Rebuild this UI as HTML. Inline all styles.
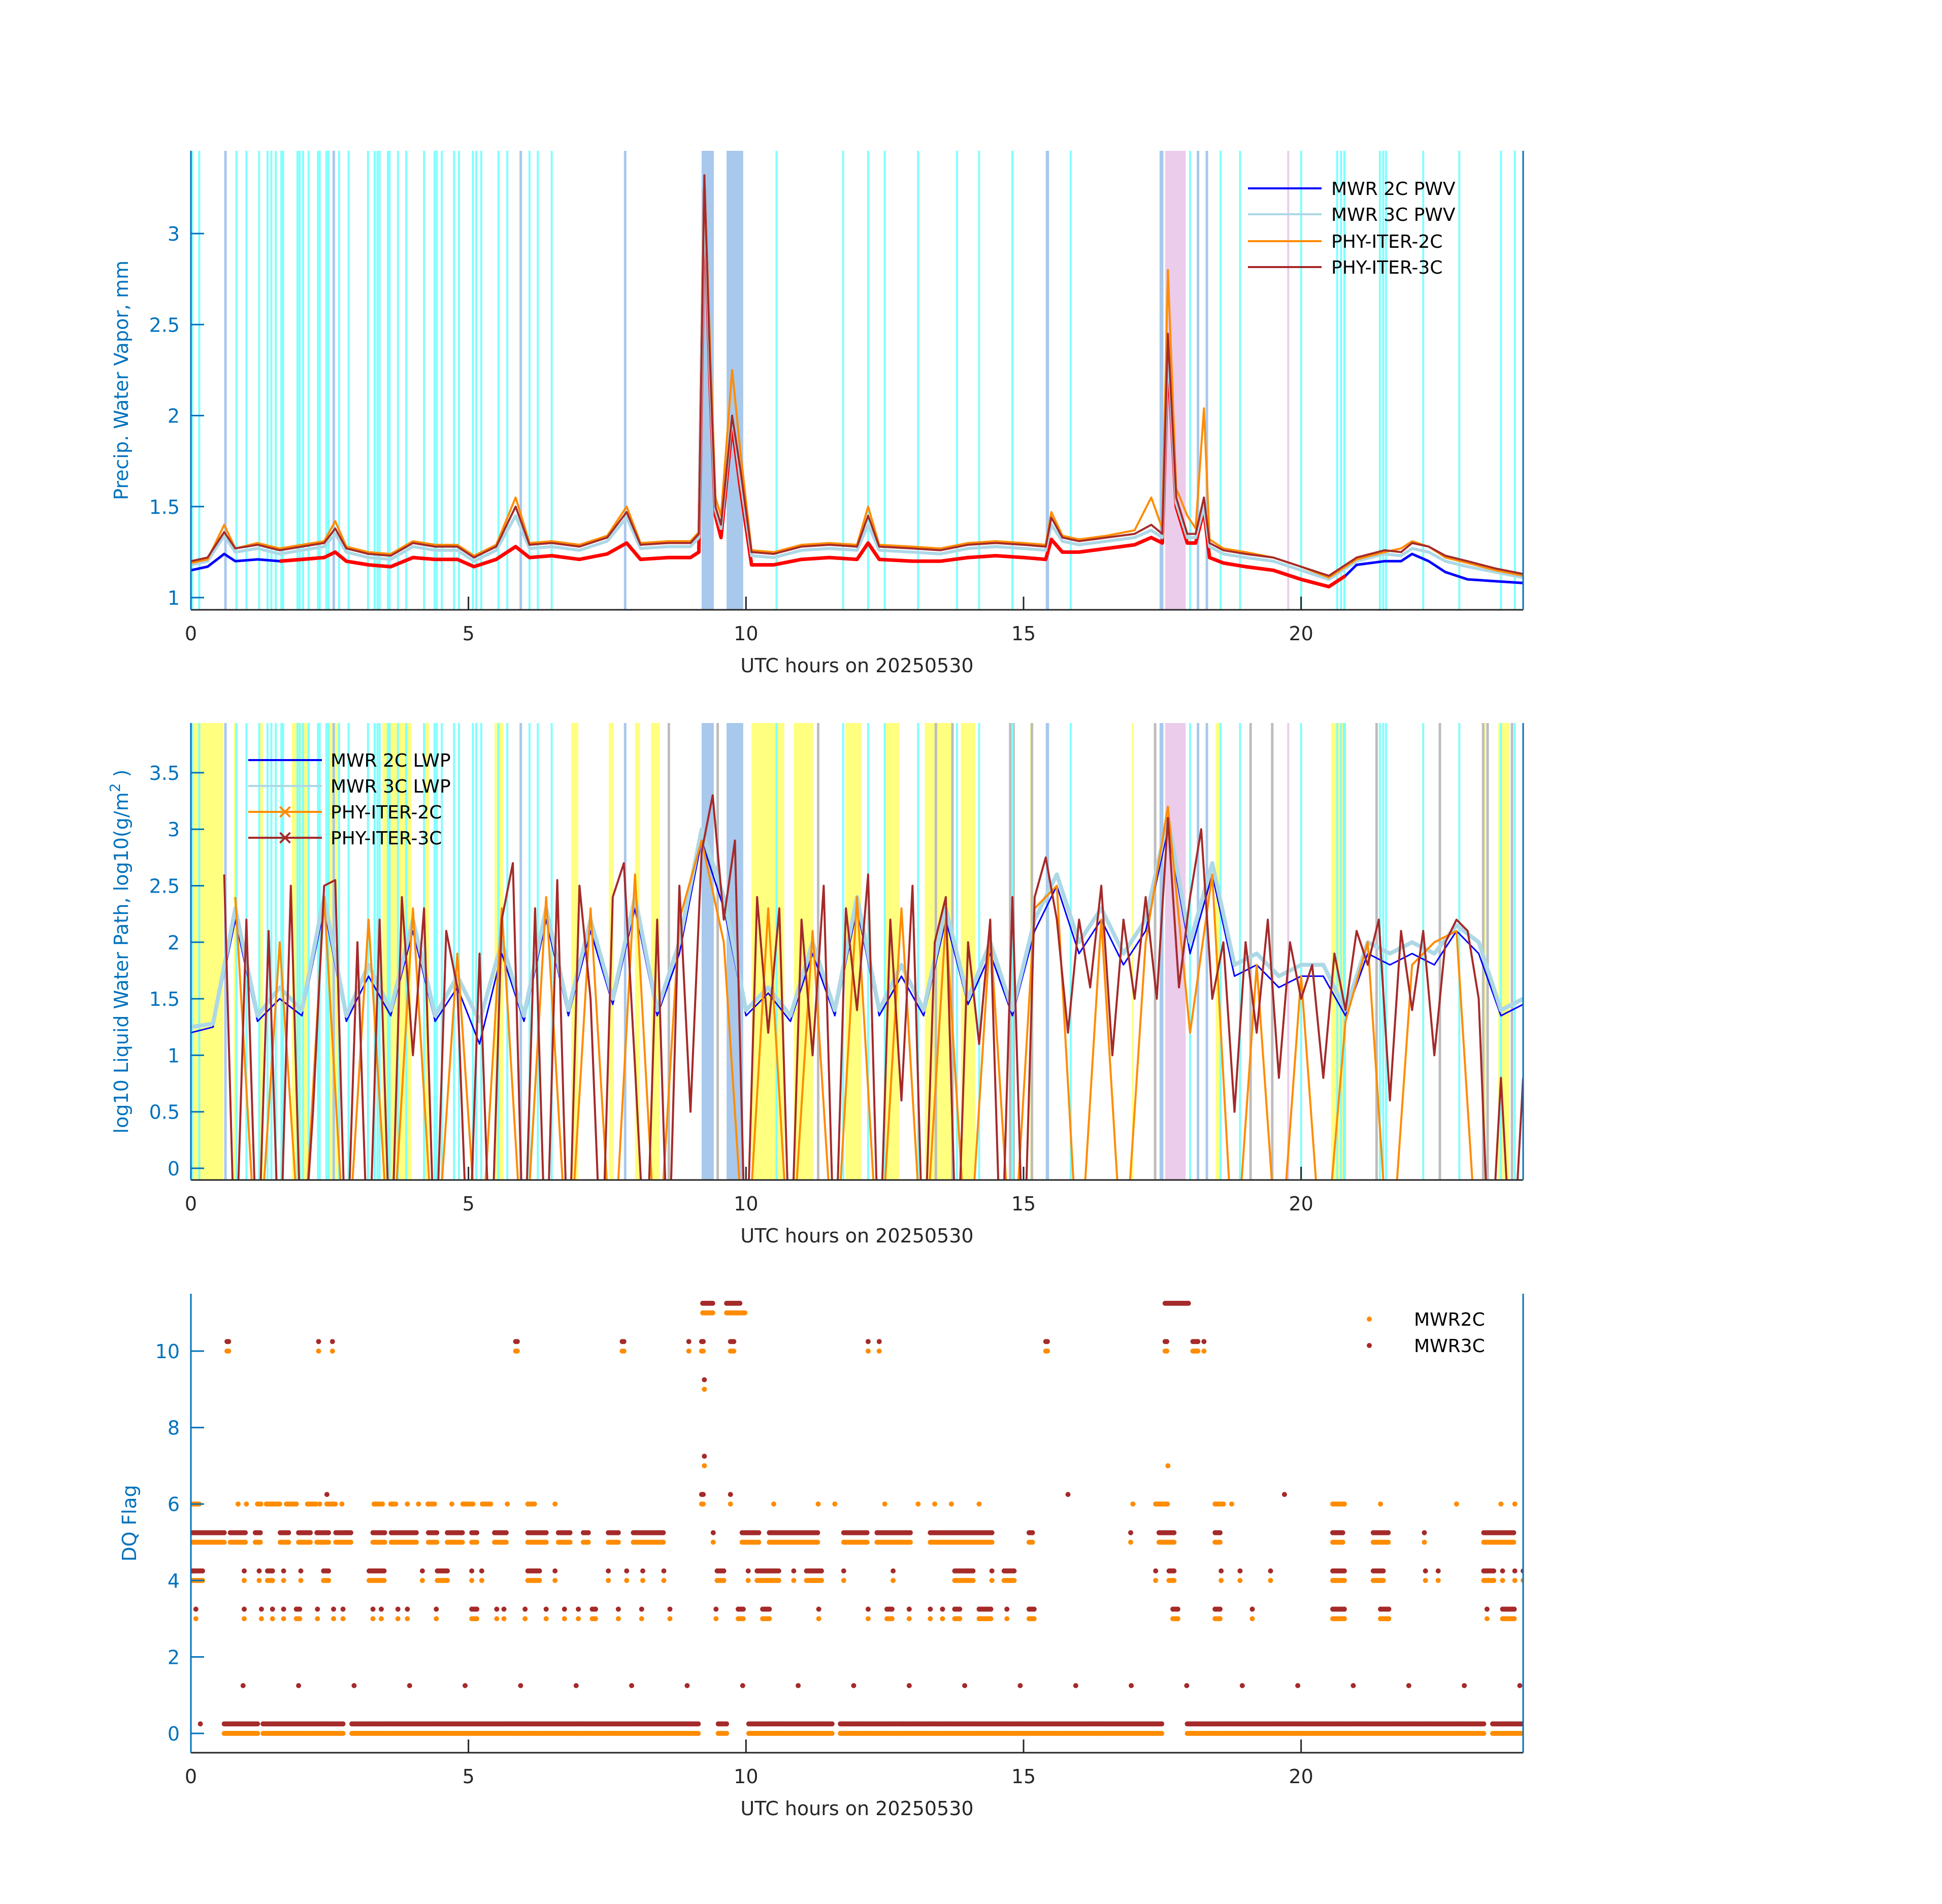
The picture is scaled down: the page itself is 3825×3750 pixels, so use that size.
<!DOCTYPE html>
<html><head><meta charset="utf-8"><style>
html,body{margin:0;padding:0;background:#fff}
svg{display:block;font-family:"DejaVu Sans","Liberation Sans",sans-serif}
</style></head><body>
<svg id="fig" width="3825" height="3750" viewBox="0 0 3825 3750" xmlns="http://www.w3.org/2000/svg">
<rect width="3825" height="3750" fill="#fff"/>
<defs>
<clipPath id="c1"><rect x="376" y="297" width="2624" height="904"/></clipPath>
<clipPath id="c2"><rect x="376" y="1424" width="2624" height="900"/></clipPath>
<clipPath id="c3"><rect x="376" y="2548" width="2624" height="904"/></clipPath>
</defs>
<g id="p1"></g>
<g id="p2"></g>
<g id="p3"></g>
</svg>
<script>
// ---------- data ----------
const xTicks=[0,5,10,15,20];
const pwvTicks=[1,1.5,2,2.5,3];
const pwvTickLabels=["1","1.5","2","2.5","3"];
const lwpTicks=[0,0.5,1,1.5,2,2.5,3,3.5];
const lwpTickLabels=["0","0.5","1","1.5","2","2.5","3","3.5"];
const dqTicks=[0,2,4,6,8,10];
const dqTickLabels=["0","2","4","6","8","10"];

const pwvHours=[0,0.3,0.6,0.8,1.2,1.6,2.0,2.4,2.6,2.8,3.2,3.6,4.0,4.4,4.8,5.1,5.5,5.85,6.1,6.5,7.0,7.5,7.85,8.1,8.6,9.0,9.15,9.25,9.35,9.45,9.55,9.75,9.9,10.1,10.5,11.0,11.5,12.0,12.2,12.4,13.0,13.5,14.0,14.5,15.0,15.4,15.5,15.7,16.0,16.5,17.0,17.3,17.5,17.6,17.75,17.95,18.1,18.25,18.35,18.6,19.0,19.5,20.0,20.5,20.8,21.0,21.5,21.8,22.0,22.3,22.6,23.0,23.5,24.0];
const pwvPhy3c=[1.20,1.22,1.36,1.27,1.29,1.26,1.28,1.30,1.38,1.27,1.24,1.23,1.30,1.28,1.28,1.22,1.28,1.50,1.29,1.30,1.28,1.33,1.47,1.29,1.30,1.30,1.35,3.32,2.3,1.5,1.4,2.0,1.7,1.25,1.24,1.28,1.29,1.28,1.45,1.28,1.27,1.26,1.29,1.30,1.29,1.28,1.44,1.33,1.31,1.33,1.35,1.40,1.35,2.45,1.55,1.35,1.35,1.55,1.30,1.26,1.24,1.22,1.17,1.12,1.18,1.22,1.26,1.25,1.30,1.28,1.23,1.20,1.16,1.13];
const pwvPhy2c=[1.19,1.21,1.40,1.27,1.30,1.27,1.29,1.31,1.42,1.28,1.25,1.24,1.31,1.29,1.29,1.23,1.29,1.55,1.30,1.31,1.29,1.34,1.50,1.30,1.31,1.31,1.36,3.30,2.4,1.55,1.45,2.25,1.8,1.26,1.25,1.29,1.30,1.29,1.50,1.29,1.28,1.27,1.30,1.31,1.30,1.29,1.47,1.34,1.32,1.34,1.37,1.55,1.38,2.80,1.60,1.45,1.38,2.04,1.32,1.27,1.25,1.22,1.17,1.11,1.17,1.21,1.25,1.27,1.31,1.28,1.22,1.19,1.15,1.12];
const pwvMwr3c=[1.18,1.20,1.34,1.25,1.27,1.24,1.26,1.28,1.35,1.25,1.22,1.21,1.28,1.26,1.26,1.20,1.26,1.45,1.27,1.28,1.26,1.31,1.44,1.27,1.28,1.28,1.33,3.30,2.25,1.48,1.38,2.0,1.65,1.23,1.22,1.26,1.27,1.26,1.40,1.26,1.25,1.24,1.27,1.28,1.27,1.26,1.40,1.31,1.29,1.31,1.33,1.37,1.33,2.40,1.52,1.33,1.33,1.50,1.28,1.24,1.22,1.20,1.15,1.10,1.16,1.20,1.24,1.23,1.27,1.25,1.20,1.17,1.14,1.11];
const pwvMwr2c=[1.15,1.17,1.24,1.20,1.21,1.20,1.21,1.22,1.25,1.20,1.18,1.17,1.22,1.21,1.21,1.17,1.21,1.28,1.22,1.23,1.21,1.24,1.30,1.21,1.22,1.22,1.25,3.25,2.2,1.45,1.33,1.95,1.6,1.18,1.18,1.21,1.22,1.21,1.30,1.21,1.20,1.20,1.22,1.23,1.22,1.21,1.32,1.25,1.25,1.27,1.29,1.33,1.30,2.35,1.50,1.30,1.30,1.48,1.22,1.19,1.17,1.15,1.10,1.06,1.12,1.18,1.20,1.20,1.24,1.20,1.14,1.10,1.09,1.08];
const pwv2cFlagged=[[1.25,20.9],[21.9,22.1]];

const lwpHours3c=[0,0.2,0.4,0.6,0.8,1.0,1.2,1.4,1.6,1.8,2.0,2.2,2.4,2.6,2.8,3.0,3.2,3.4,3.6,3.8,4.0,4.2,4.4,4.6,4.8,5.0,5.2,5.4,5.6,5.8,6.0,6.2,6.4,6.6,6.8,7.0,7.2,7.4,7.6,7.8,8.0,8.2,8.4,8.6,8.8,9.0,9.2,9.4,9.6,9.8,10.0,10.2,10.4,10.6,10.8,11.0,11.2,11.4,11.6,11.8,12.0,12.2,12.4,12.6,12.8,13.0,13.2,13.4,13.6,13.8,14.0,14.2,14.4,14.6,14.8,15.0,15.2,15.4,15.6,15.8,16.0,16.2,16.4,16.6,16.8,17.0,17.2,17.4,17.6,17.8,18.0,18.2,18.4,18.6,18.8,19.0,19.2,19.4,19.6,19.8,20.0,20.2,20.4,20.6,20.8,21.0,21.2,21.4,21.6,21.8,22.0,22.2,22.4,22.6,22.8,23.0,23.2,23.4,23.6,23.8,24.0];
const lwpPhy3c=[null,null,null,2.6,-1,2.2,-1,2.1,-1,2.5,-1,0.5,2.5,2.55,-1,2.0,-1,2.2,-1,2.4,1.0,2.3,-1,2.1,1.6,-1,1.9,-1,2.2,2.7,-1,2.3,-1,2.55,-1,2.5,1.5,-1,2.4,2.7,0.9,-1,2.2,-1,2.5,0.5,2.8,3.3,2.2,2.9,-1,2.4,1.2,2.3,-1,2.2,1.0,2.5,-1,2.3,1.4,2.6,-1,2.2,0.6,2.5,-1,2.0,2.4,-1,2.0,1.1,2.2,-1,2.4,-1,2.4,2.75,2.2,1.2,2.2,1.6,2.5,1.0,2.2,1.5,2.4,1.5,3.1,1.6,2.4,3.0,1.5,2.0,0.5,2.0,1.2,2.2,0.8,2.0,1.5,1.8,0.8,1.9,1.4,2.1,1.8,2.2,0.6,2.1,1.4,2.1,1.0,2.0,2.2,2.1,1.5,-1,0.8,-1,0.8];
const lwpHours=[0,0.4,0.8,1.2,1.6,2.0,2.4,2.8,3.2,3.6,4.0,4.4,4.8,5.2,5.6,6.0,6.4,6.8,7.2,7.6,8.0,8.4,8.8,9.2,9.6,10.0,10.4,10.8,11.2,11.6,12.0,12.4,12.8,13.2,13.6,14.0,14.4,14.8,15.2,15.6,16.0,16.4,16.8,17.2,17.6,18.0,18.4,18.8,19.2,19.6,20.0,20.4,20.8,21.2,21.6,22.0,22.4,22.8,23.2,23.6,24.0];
const lwpPhy2c=[null,null,2.4,-1,2.0,-1,2.4,-1,2.2,-1,2.3,-1,1.9,-1,2.3,-1,2.4,-1,2.3,-1,2.6,-1,2.2,2.9,2.0,-1,2.3,-1,2.1,-1,2.4,-1,2.3,-1,2.2,-1,2.1,-1,2.3,2.5,-1,2.2,-1,2.0,3.2,1.2,2.6,-1,1.8,-1,1.7,-1,1.3,2.0,-1,1.8,2.0,2.1,-1,-1,-1];
const lwpMwr3c=[1.25,1.28,2.3,1.35,1.6,1.4,2.4,1.35,1.8,1.4,2.2,1.35,1.7,1.3,2.0,1.35,2.3,1.4,2.2,1.5,2.4,1.4,2.0,3.0,2.4,1.4,1.6,1.35,2.0,1.4,2.4,1.4,1.8,1.4,2.3,1.5,2.0,1.4,2.2,2.6,2.0,2.3,1.9,2.2,3.1,2.0,2.7,1.8,1.9,1.7,1.8,1.8,1.4,2.0,1.9,2.0,1.9,2.15,2.0,1.4,1.5];
const lwpMwr2c=[1.2,1.25,2.2,1.3,1.5,1.35,2.3,1.3,1.7,1.35,2.1,1.3,1.6,1.1,1.9,1.3,2.2,1.35,2.1,1.45,2.3,1.35,1.9,2.9,2.3,1.35,1.55,1.3,1.9,1.35,2.3,1.35,1.7,1.35,2.2,1.45,1.9,1.35,2.1,2.5,1.9,2.2,1.8,2.1,3.0,1.9,2.6,1.7,1.8,1.6,1.7,1.7,1.35,1.9,1.8,1.9,1.8,2.1,1.9,1.35,1.45];

// flag bands (hours)
const cyanLines=[0.02,0.15,0.82,1.0,1.23,1.38,1.45,1.53,1.63,1.66,1.92,1.96,2.02,2.12,2.29,2.32,2.44,2.48,2.67,2.84,3.19,3.31,3.36,3.40,3.55,3.58,3.73,3.88,4.2,4.39,4.43,4.52,4.74,4.83,5.08,5.14,5.23,5.54,5.7,6.1,6.25,6.5,9.72,9.8,10.55,11.75,12.2,12.5,13.1,13.8,14.2,14.8,15.43,15.85,18.0,18.3,18.55,18.9,20.0,20.65,20.72,20.78,21.42,21.48,21.53,22.2,22.85,23.6,23.85];
const blueBands=[[0.6,0.64],[2.55,2.58],[5.92,5.95],[7.8,7.83],[9.2,9.42],[9.65,9.95],[15.4,15.46],[17.45,17.52],[18.12,18.15],[18.28,18.32]];
const pinkBands=[[17.55,17.92],[19.75,19.77]];
const yellowBands=[[0,0.58],[0.77,0.83],[1.24,1.30],[1.82,2.10],[2.46,2.68],[3.45,3.97],[4.19,4.29],[5.47,5.63],[6.85,6.98],[7.53,7.62],[8.0,8.09],[8.29,8.45],[10.10,10.69],[10.86,11.21],[11.79,12.08],[12.52,12.76],[13.22,13.72],[13.87,14.13],[15.12,15.18],[16.95,16.97],[18.46,18.54],[20.54,20.81],[22.18,22.21],[23.28,23.33],[23.55,23.75]];
const grayLines=[8.61,9.49,11.3,13.42,13.72,14.76,14.82,15.15,17.37,19.09,19.48,20.78,21.36,22.5,23.28,23.36,23.8];

// DQ flags: [level, start, end]
const dqShared=[[0,0.6,1.2],[0,1.3,2.75],[0,2.9,9.15],[0,9.5,9.65],[0,10.05,11.55],[0,11.7,17.5],[0,17.95,23.3],[0,23.45,24],
[5,0,0.6],[5,0.71,1.0],[5,1.16,1.27],[5,1.61,1.76],[5,1.94,2.16],[5,2.27,2.5],[5,2.61,2.9],[5,3.28,3.5],[5,3.61,4.06],[5,4.28,4.44],[5,4.62,4.89],[5,5.06,5.17],[5,5.47,5.69],[5,6.07,6.4],[5,6.62,6.85],[5,7.07,7.18],[5,7.52,7.7],[5,7.97,8.52],[5,9.41,9.43],[5,9.93,10.24],[5,10.42,11.31],[5,11.76,12.2],[5,12.36,12.98],[5,13.32,14.43],[5,15.1,15.17],[5,16.93,16.95],[5,17.44,17.73],[5,18.45,18.56],[5,20.57,20.75],[5,21.3,21.57],[5,22.22,22.24],[5,23.29,23.85],
[4,0,0.22],[4,0.96,0.96],[4,1.23,1.23],[4,1.38,1.49],[4,1.67,1.67],[4,1.98,1.98],[4,2.39,2.5],[4,3.21,3.5],[4,4.17,4.17],[4,4.44,4.62],[4,5.06,5.06],[4,5.24,5.24],[4,6.07,6.29],[4,6.56,6.56],[4,7.52,7.52],[4,7.85,7.85],[4,8.14,8.14],[4,8.52,8.52],[4,9.48,9.6],[4,10.04,10.04],[4,10.2,10.6],[4,10.86,10.86],[4,11.09,11.36],[4,11.76,11.76],[4,12.65,12.65],[4,13.76,14.09],[4,14.43,14.43],[4,14.65,14.83],[4,17.38,17.38],[4,17.62,17.73],[4,18.56,18.56],[4,18.9,18.9],[4,19.45,19.45],[4,20.57,20.8],[4,21.3,21.48],[4,22.24,22.24],[4,22.47,22.47],[4,23.29,23.47],[4,23.63,23.63],[4,23.85,23.85],[4,24,24],
[3,0.09,0.09],[3,0.96,0.96],[3,1.27,1.27],[3,1.47,1.47],[3,1.67,1.67],[3,1.9,1.96],[3,2.28,2.28],[3,2.57,2.57],[3,2.74,2.74],[3,3.28,3.28],[3,3.43,3.43],[3,3.73,3.73],[3,3.9,3.9],[3,4.42,4.42],[3,5.06,5.17],[3,5.51,5.51],[3,5.64,5.64],[3,6.02,6.02],[3,6.4,6.4],[3,6.73,6.73],[3,6.98,6.98],[3,7.23,7.3],[3,7.7,7.7],[3,8.12,8.12],[3,8.63,8.63],[3,9.46,9.46],[3,9.86,9.97],[3,10.3,10.42],[3,11.31,11.31],[3,12.2,12.2],[3,12.54,12.65],[3,12.94,12.94],[3,13.32,13.32],[3,13.54,13.54],[3,13.76,13.87],[3,14.2,14.43],[3,14.7,14.7],[3,15.1,15.21],[3,17.69,17.78],[3,18.45,18.56],[3,19.12,19.12],[3,20.57,20.8],[3,21.43,21.59],[3,23.35,23.35],[3,23.63,23.85],
[10,0.65,0.7],[10,2.3,2.3],[10,2.55,2.55],[10,5.85,5.9],[10,7.77,7.8],[10,8.97,8.97],[10,9.2,9.25],[10,9.72,9.8],[10,12.2,12.2],[10,12.4,12.4],[10,15.4,15.45],[10,17.55,17.6],[10,18.05,18.15],[10,18.25,18.25],
[11,9.22,9.4],[6,9.2,9.25],[9,9.25,9.25],[7,9.25,9.25]];
const dq2cOnly=[[6,0,0.16],[6,0.85,0.85],[6,1.0,1.0],[6,1.2,1.27],[6,1.36,1.6],[6,1.72,1.9],[6,2.1,2.27],[6,2.32,2.32],[6,2.45,2.6],[6,2.72,2.72],[6,3.3,3.45],[6,3.6,3.7],[6,3.9,3.9],[6,4.1,4.1],[6,4.27,4.4],[6,4.7,4.7],[6,4.9,5.1],[6,5.25,5.4],[6,5.7,5.7],[6,6.07,6.2],[6,6.56,6.56],[6,9.72,9.72],[6,10.5,10.5],[6,11.3,11.3],[6,11.6,11.6],[6,12.5,12.5],[6,13.1,13.1],[6,13.4,13.4],[6,13.7,13.7],[6,14.2,14.2],[6,16.97,16.97],[6,17.38,17.6],[6,18.45,18.6],[6,18.75,18.75],[6,20.57,20.8],[6,21.43,21.43],[6,22.8,22.8],[6,23.6,23.6],[6,23.85,23.85],[11,9.65,10.0],[7,17.6,17.6]];
const dq3cOnly=[[6,2.45,2.45],[6,9.72,9.72],[6,15.8,15.8],[6,19.7,19.7],[11,9.65,9.9],[11,17.55,17.98],[1,0.94,0.94],[1,1.94,1.94],[1,2.94,2.94],[1,3.94,3.94],[1,4.94,4.94],[1,5.94,5.94],[1,6.94,6.94],[1,7.94,7.94],[1,8.94,8.94],[1,9.94,9.94],[1,10.94,10.94],[1,11.94,11.94],[1,12.94,12.94],[1,13.94,13.94],[1,14.94,14.94],[1,15.94,15.94],[1,16.94,16.94],[1,17.94,17.94],[1,18.94,18.94],[1,19.94,19.94],[1,20.94,20.94],[1,21.94,21.94],[1,22.94,22.94],[1,23.94,23.94],[0,0.17,0.17]];

// ---------- drawing ----------
const NS="http://www.w3.org/2000/svg";
const X0=376,X1=3000;
function xs(h){return X0+h*(X1-X0)/24;}
function mk(parent,tag,attrs){const e=document.createElementNS(NS,tag);for(const k in attrs)e.setAttribute(k,attrs[k]);parent.appendChild(e);return e;}
function yPwv(v){return 1177-(v-1)*358.5;}
function yLwp(v){return 2301-v*222.6;}
function yDq(v){return 3414-v*75.3;}
const BLUE="#0072BD";

function drawBandsCommon(g,top,bot,withYellow){
  if(withYellow){
    yellowBands.forEach(b=>{const r=mk(g,'rect',{x:xs(b[0]),y:top,width:Math.max(3,xs(b[1])-xs(b[0])),height:bot-top,fill:'#ffff80'});
      
      });
    grayLines.forEach(h=>{const l=mk(g,'rect',{x:xs(h)-2.5,y:top,width:5,height:bot-top,fill:'#bdbdbd'});
      
      });
  }
  cyanLines.forEach(h=>{const l=mk(g,'rect',{x:xs(h)-2,y:top,width:4,height:bot-top,fill:'#80ffff'});
    
    });
  blueBands.forEach(b=>{const r=mk(g,'rect',{x:xs(b[0]),y:top,width:Math.max(5,xs(b[1])-xs(b[0])),height:bot-top,fill:'#a8c8ec'});
    
    });
  pinkBands.forEach(b=>{const r=mk(g,'rect',{x:xs(b[0]),y:top,width:Math.max(4,xs(b[1])-xs(b[0])),height:bot-top,fill:'#e6bfe6',opacity:0.8});
    
    });
}
function pathFrom(hours,vals,yf,filter){
  let d='',pen=false;
  for(let i=0;i<hours.length;i++){
    const v=vals[i];
    if(v===null||(filter&&!filter(hours[i]))){pen=false;continue;}
    d+=(pen?'L':'M')+xs(hours[i]).toFixed(1)+','+yf(v).toFixed(1);pen=true;
  }
  return d;
}
function series(g,hours,vals,yf,color,w,name,filter){
  const p=mk(g,'path',{d:pathFrom(hours,vals,yf,filter),fill:'none',stroke:color,'stroke-width':w,'stroke-linejoin':'round'});
  
  
  return p;
}
function axes(g,top,bot,ticks,labels,yf,ylabel,ylabelX){
  const xa=mk(g,'line',{x1:X0,y1:bot,x2:X1,y2:bot,stroke:'#262626','stroke-width':3});
  
  
  xTicks.forEach(h=>{
    mk(g,'line',{x1:xs(h),y1:bot,x2:xs(h),y2:bot-26,stroke:'#262626','stroke-width':3});
    const t=mk(g,'text',{x:xs(h),y:bot+60,'font-size':38,fill:'#262626','text-anchor':'middle'});t.textContent=String(h);
    
    
  });
  const la=mk(g,'line',{x1:X0,y1:top,x2:X0,y2:bot,stroke:BLUE,'stroke-width':3});
  
  
  const ra=mk(g,'line',{x1:X1,y1:top,x2:X1,y2:bot,stroke:BLUE,'stroke-width':3});
  
  
  ticks.forEach((v,i)=>{
    const y=yf(v);
    mk(g,'line',{x1:X0,y1:y,x2:X0+26,y2:y,stroke:BLUE,'stroke-width':3});
    const t=mk(g,'text',{x:X0-22,y:y+14,'font-size':38,fill:BLUE,'text-anchor':'end'});t.textContent=labels[i];
    
    
  });
  const xl=mk(g,'text',{x:1688,y:bot+123,'font-size':38,fill:'#262626','text-anchor':'middle'});xl.textContent='UTC hours on 20250530';
  
  
  const cy=(top+bot)/2;
  const yl=mk(g,'text',{x:ylabelX,y:cy,'font-size':38,fill:BLUE,'text-anchor':'middle',transform:`rotate(-90 ${ylabelX} ${cy})`});
  yl.innerHTML=ylabel;
  
  
}
function legendLine(g,x1,x2,y,tx,color,label,marker){
  const gg=mk(g,'g',{});
  
  
  mk(gg,'line',{x1:x1,y1:y,x2:x2,y2:y,stroke:color,'stroke-width':4});
  if(marker){const m=(x1+x2)/2;mk(gg,'path',{d:`M${m-10},${y-10}L${m+10},${y+10}M${m-10},${y+10}L${m+10},${y-10}`,stroke:color,'stroke-width':4});}
  const t=mk(gg,'text',{x:tx,y:y+13,'font-size':36,fill:'#000'});t.textContent=label;
}

// Panel 1
(function(){
  const g=document.getElementById('p1');
  const c=mk(g,'g',{'clip-path':'url(#c1)'});
  drawBandsCommon(c,297,1201,false);
  series(c,pwvHours,pwvMwr2c,yPwv,'#0000ff',5,'mwr-2c-pwv-line');
  series(c,pwvHours,pwvMwr2c,yPwv,'#ff0000',7,'mwr-2c-pwv-flagged',h=>pwv2cFlagged.some(f=>h>=f[0]&&h<=f[1]));
  series(c,pwvHours,pwvMwr3c,yPwv,'#add8e6',6,'mwr-3c-pwv-line');
  series(c,pwvHours,pwvPhy2c,yPwv,'#ff8c00',4,'phy-iter-2c-pwv-line');
  series(c,pwvHours,pwvPhy3c,yPwv,'#a52a2a',4,'phy-iter-3c-pwv-line');
  axes(g,297,1201,pwvTicks,pwvTickLabels,yPwv,'Precip. Water Vapor, mm',252);
  const lg=mk(g,'g',{});
  legendLine(lg,2458,2603,371,2622,'#0000ff','MWR 2C PWV');
  legendLine(lg,2458,2603,422,2622,'#add8e6','MWR 3C PWV');
  legendLine(lg,2458,2603,475,2622,'#ff8c00','PHY-ITER-2C');
  legendLine(lg,2458,2603,526,2622,'#a52a2a','PHY-ITER-3C');
})();

// Panel 2
(function(){
  const g=document.getElementById('p2');
  const c=mk(g,'g',{'clip-path':'url(#c2)'});
  drawBandsCommon(c,1424,2324,true);
  series(c,lwpHours,lwpMwr2c,yLwp,'#0000ff',3,'mwr-2c-lwp-line');
  series(c,lwpHours,lwpMwr3c,yLwp,'#add8e6',8,'mwr-3c-lwp-line');
  series(c,lwpHours,lwpPhy2c,yLwp,'#ff8c00',4,'phy-iter-2c-lwp-line');
  series(c,lwpHours3c,lwpPhy3c,yLwp,'#a52a2a',4,'phy-iter-3c-lwp-line');
  axes(g,1424,2324,lwpTicks,lwpTickLabels,yLwp,'log10 Liquid Water Path, log10(g/m<tspan dy="-16" font-size="28">2</tspan><tspan dy="16"> )</tspan>',252);
  const lg=mk(g,'g',{});
  legendLine(lg,489,634,1497,651,'#0000ff','MWR 2C LWP');
  legendLine(lg,489,634,1548,651,'#add8e6','MWR 3C LWP');
  legendLine(lg,489,634,1599,651,'#ff8c00','PHY-ITER-2C',true);
  legendLine(lg,489,634,1650,651,'#a52a2a','PHY-ITER-3C',true);
})();

// Panel 3
(function(){
  const g=document.getElementById('p3');
  const c=mk(g,'g',{'clip-path':'url(#c3)'});
  function dots(list,off,color,name){
    const gg=mk(c,'g',{fill:color});
    
    
    list.forEach(s=>{
      for(let h=s[1];h<=s[2]+1e-6;h+=0.03){
        mk(gg,'circle',{cx:xs(h).toFixed(1),cy:yDq(s[0]+off).toFixed(1),r:5});
      }
    });
  }
  dots(dqShared,0,'#ff8c00','mwr2c-dq-points');
  dots(dq2cOnly,0,'#ff8c00','mwr2c-dq-points-extra');
  dots(dqShared,0.25,'#a52a2a','mwr3c-dq-points');
  dots(dq3cOnly,0.25,'#a52a2a','mwr3c-dq-points-extra');
  axes(g,2548,3452,dqTicks,dqTickLabels,yDq,'DQ Flag',268);
  const lg=mk(g,'g',{});
  mk(lg,'circle',{cx:2697,cy:2598,r:5,fill:'#ff8c00'});
  const t1=mk(lg,'text',{x:2785,y:2611,'font-size':36,fill:'#000'});t1.textContent='MWR2C';
  mk(lg,'circle',{cx:2697,cy:2650,r:5,fill:'#a52a2a'});
  const t2=mk(lg,'text',{x:2785,y:2663,'font-size':36,fill:'#000'});t2.textContent='MWR3C';
})();
</script>
</body></html>
